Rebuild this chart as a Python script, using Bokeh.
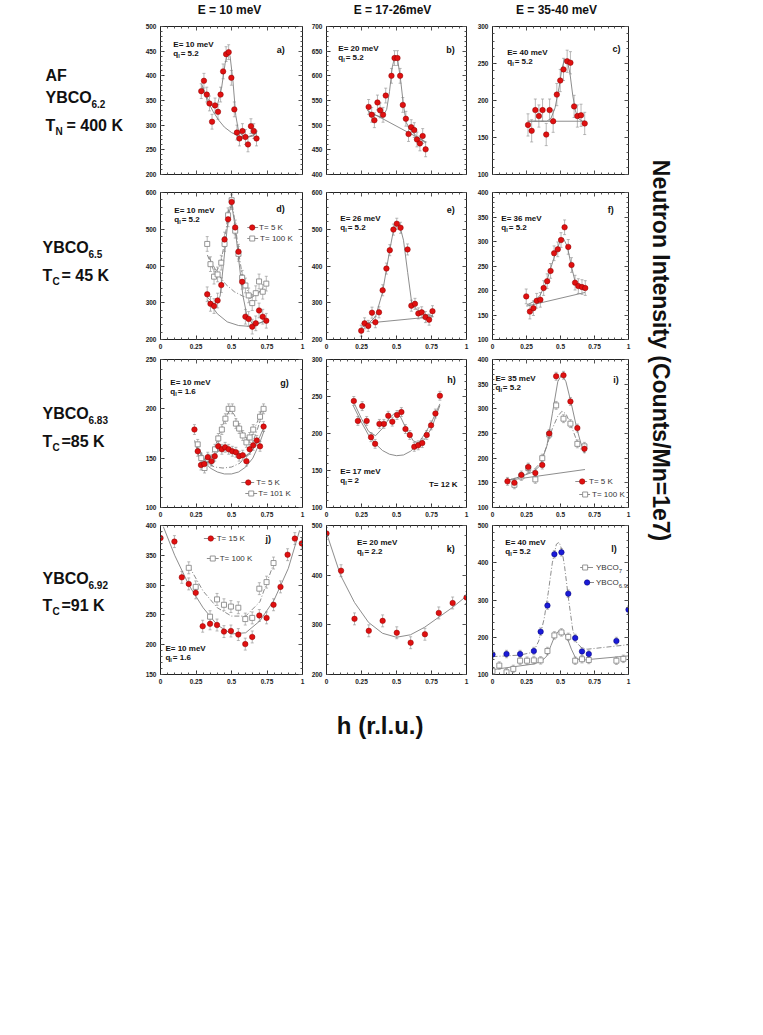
import numpy as np
from bokeh.plotting import figure
from bokeh.layouts import column, row
from bokeh.models import (Range1d, LinearAxis, SingleIntervalTicker, FixedTicker, Label,
                          Whisker, ColumnDataSource, TeeHead)
from bokeh.embed import file_html
from bokeh.resources import INLINE

# ------------------------------------------------------------------ data
x_ticks = [0, 0.25, 0.5, 0.75, 1]
x_tick_labels = ["0", "0.25", "0.5", "0.75", "1"]
energy_headers = ["E = 10 meV", "E = 17-26meV", "E = 35-40 meV"]

# a) YBCO6.2, E=10 meV
a_h = [0.287, 0.306, 0.326, 0.345, 0.363, 0.384, 0.405, 0.423, 0.441, 0.462, 0.480,
       0.499, 0.520, 0.538, 0.556, 0.577, 0.598, 0.616, 0.637, 0.657, 0.676]
a_I = [369, 390, 362, 344, 307, 340, 327, 362, 409, 444, 448, 396, 332, 285, 273, 288,
       276, 261, 298, 288, 273]
a_err = 15
a_fit_h = [0.29, 0.33, 0.37, 0.40, 0.43, 0.455, 0.475, 0.49, 0.51, 0.53, 0.55, 0.58, 0.62, 0.66, 0.68]
a_fit_I = [383, 355, 337, 340, 375, 425, 448, 440, 390, 320, 287, 278, 277, 281, 285]
a_bg_h = [0.29, 0.33, 0.37, 0.41, 0.45, 0.50, 0.55, 0.60, 0.65, 0.68]
a_bg_I = [378, 350, 328, 310, 296, 285, 278, 275, 278, 285]

# b) YBCO6.2, E=20 meV
b_h = [0.301, 0.323, 0.342, 0.364, 0.383, 0.404, 0.423, 0.464, 0.486, 0.507, 0.526,
       0.545, 0.567, 0.586, 0.605, 0.627, 0.646, 0.667, 0.687, 0.708]
b_I = [537, 521, 510, 546, 530, 521, 560, 600, 636, 636, 600, 541, 513, 482, 496, 490,
       471, 463, 478, 451]
b_err = 15
b_fit_h = [0.30, 0.35, 0.40, 0.43, 0.45, 0.47, 0.49, 0.51, 0.53, 0.55, 0.57, 0.60, 0.65, 0.71]
b_fit_I = [527, 520, 516, 532, 568, 618, 642, 630, 590, 540, 505, 490, 476, 464]
b_bg_h = [0.29, 0.71]
b_bg_I = [530, 466]

# c) YBCO6.2, E=40 meV
c_h = [0.261, 0.288, 0.315, 0.341, 0.368, 0.395, 0.420, 0.446, 0.473, 0.498, 0.522,
       0.549, 0.573, 0.600, 0.624, 0.651, 0.678]
c_I = [167, 159, 187, 179, 187, 154, 187, 172, 208, 227, 242, 253, 251, 192, 179, 180, 169]
c_err = 15
c_fit_h = [0.26, 0.40, 0.43, 0.46, 0.49, 0.51, 0.53, 0.55, 0.57, 0.59, 0.61, 0.63, 0.66, 0.68]
c_fit_I = [172, 172, 176, 190, 218, 243, 256, 254, 236, 207, 186, 176, 172, 172]
c_bg_h = [0.26, 0.68]
c_bg_I = [172, 172]

# d) YBCO6.5, E=10 meV, T=5 K and T=100 K
d_h = [0.329, 0.352, 0.377, 0.402, 0.428, 0.451, 0.476, 0.501, 0.526, 0.549, 0.575,
       0.598, 0.621, 0.646, 0.671, 0.694, 0.720, 0.745]
d5_I = [323, 297, 291, 306, 348, 472, 527, 574, 505, 439, 357, 262, 256, 235, 244, 279, 262, 251]
d100_I = [460, 405, 371, 377, 409, 460, 538, 579, 496, 433, 368, 347, 320, 299, 326, 358, 330, 352]
d_err = 20
d5_fit_h = [0.33, 0.38, 0.42, 0.45, 0.48, 0.50, 0.52, 0.55, 0.58, 0.61, 0.65, 0.70, 0.75]
d5_fit_I = [315, 295, 318, 430, 540, 570, 522, 420, 320, 262, 242, 245, 253]
d5_bg_h = [0.33, 0.40, 0.47, 0.55, 0.62, 0.68, 0.75]
d5_bg_I = [308, 270, 248, 238, 236, 242, 253]
d100_fit_h = [0.33, 0.38, 0.42, 0.45, 0.48, 0.50, 0.52, 0.55, 0.58, 0.62, 0.66, 0.70, 0.75]
d100_fit_I = [430, 382, 400, 462, 555, 580, 532, 440, 362, 326, 320, 330, 355]
d100_bg_h = [0.34, 0.40, 0.46, 0.52, 0.58, 0.63, 0.68, 0.75]
d100_bg_I = [425, 380, 350, 330, 318, 312, 322, 355]

# e) YBCO6.5, E=26 meV
e_h = [0.248, 0.272, 0.298, 0.325, 0.349, 0.375, 0.401, 0.428, 0.452, 0.478, 0.502,
       0.529, 0.579, 0.606, 0.632, 0.656, 0.680, 0.707, 0.733, 0.757]
e_I = [224, 244, 237, 273, 247, 274, 334, 393, 443, 499, 515, 504, 445, 292, 297, 271,
       274, 261, 254, 277]
e_err = 15
e_fit_h = [0.25, 0.30, 0.35, 0.40, 0.45, 0.48, 0.50, 0.52, 0.55, 0.58, 0.61, 0.65, 0.70, 0.76]
e_fit_I = [232, 244, 262, 328, 440, 500, 518, 515, 470, 382, 296, 280, 268, 265]
e_bg_h = [0.25, 0.76]
e_bg_I = [243, 262]

# f) YBCO6.5, E=36 meV
f_h = [0.248, 0.275, 0.301, 0.325, 0.352, 0.376, 0.402, 0.427, 0.453, 0.480, 0.504,
       0.530, 0.557, 0.581, 0.607, 0.631, 0.658, 0.682]
f_I = [188, 157, 164, 179, 181, 205, 219, 240, 276, 284, 303, 329, 289, 252, 216, 209, 207, 205]
f_err = 15
f_fit_h = [0.25, 0.30, 0.35, 0.40, 0.45, 0.50, 0.52, 0.55, 0.58, 0.61, 0.64, 0.68]
f_fit_I = [170, 177, 190, 220, 265, 303, 307, 290, 250, 215, 205, 200]
f_bg_h = [0.25, 0.68]
f_bg_I = [168, 196]

# g) YBCO6.83, E=10 meV, T=5 K and T=101 K
g5_h = [0.239, 0.262, 0.285, 0.308, 0.333, 0.359, 0.382, 0.407, 0.432, 0.455, 0.480,
        0.506, 0.531, 0.554, 0.579, 0.605, 0.628, 0.653, 0.678, 0.701, 0.726]
g5_I = [179, 157, 143, 144, 151, 147, 152, 162, 159, 161, 159, 157, 156, 152, 153, 147,
        159, 163, 168, 162, 182]
g101_h = [0.262, 0.287, 0.310, 0.336, 0.361, 0.384, 0.407, 0.432, 0.457, 0.480, 0.506,
          0.531, 0.554, 0.579, 0.605, 0.628, 0.653, 0.701, 0.726]
g101_I = [164, 150, 140, 149, 148, 159, 170, 179, 190, 200, 200, 185, 180, 173, 166, 171,
          179, 192, 200]
g_err = 5
g5_fit_h = [0.24, 0.27, 0.30, 0.34, 0.38, 0.42, 0.46, 0.50, 0.54, 0.58, 0.62, 0.66, 0.70, 0.73]
g5_fit_I = [168, 152, 145, 146, 153, 159, 161, 159, 156, 153, 153, 161, 172, 182]
g5_bg_h = [0.25, 0.30, 0.35, 0.40, 0.45, 0.50, 0.55, 0.60, 0.65, 0.70, 0.73]
g5_bg_I = [165, 148, 140, 136, 134, 134, 136, 141, 150, 166, 178]
g101_fit_h = [0.26, 0.30, 0.34, 0.38, 0.42, 0.46, 0.49, 0.52, 0.56, 0.60, 0.64, 0.68, 0.72]
g101_fit_I = [166, 150, 149, 160, 176, 192, 199, 194, 180, 170, 172, 186, 202]
g101_bg_h = [0.27, 0.32, 0.38, 0.44, 0.50, 0.56, 0.62, 0.68, 0.72]
g101_bg_I = [160, 146, 141, 140, 141, 145, 155, 178, 197]

# h) YBCO6.83, E=17 meV, T=12 K
h_h = [0.195, 0.224, 0.255, 0.287, 0.318, 0.347, 0.378, 0.410, 0.441, 0.470, 0.504,
       0.535, 0.564, 0.595, 0.627, 0.655, 0.684, 0.716, 0.747, 0.778, 0.810]
h_I = [244, 217, 237, 217, 195, 186, 213, 213, 224, 216, 225, 229, 206, 198, 182, 184,
       187, 198, 211, 227, 251]
h_err = 6
h_fit_h = [0.20, 0.25, 0.30, 0.35, 0.40, 0.45, 0.49, 0.53, 0.57, 0.62, 0.66, 0.70, 0.75, 0.81]
h_fit_I = [240, 220, 203, 197, 207, 221, 228, 222, 206, 190, 187, 192, 207, 238]
h_bg_h = [0.19, 0.25, 0.30, 0.35, 0.40, 0.45, 0.50, 0.55, 0.60, 0.65, 0.70, 0.75, 0.81]
h_bg_I = [238, 215, 198, 186, 177, 172, 170, 171, 176, 185, 199, 215, 240]

# i) YBCO6.83, E=35 meV, T=5 K and T=100 K
i5_h = [0.110, 0.161, 0.212, 0.263, 0.315, 0.366, 0.417, 0.468, 0.522, 0.573, 0.624, 0.676]
i5_I = [153, 150, 166, 182, 170, 186, 250, 366, 368, 315, 261, 219]
i100_h = [0.161, 0.212, 0.263, 0.315, 0.366, 0.417, 0.468, 0.522, 0.573, 0.624, 0.676]
i100_I = [146, 163, 180, 157, 200, 248, 307, 280, 270, 229, 224]
i_err = 8
i5_fit_h = [0.11, 0.20, 0.30, 0.35, 0.40, 0.44, 0.48, 0.51, 0.54, 0.58, 0.62, 0.65, 0.68]
i5_fit_I = [155, 162, 172, 185, 225, 290, 355, 370, 355, 310, 260, 230, 212]
i100_fit_h = [0.11, 0.20, 0.30, 0.35, 0.40, 0.44, 0.48, 0.51, 0.54, 0.58, 0.62, 0.65, 0.68]
i100_fit_I = [155, 162, 175, 190, 225, 260, 285, 295, 290, 265, 235, 218, 210]
i_bg_h = [0.11, 0.68]
i_bg_I = [155, 177]

# j) YBCO6.92, E=10 meV, T=15 K and T=100 K
j15_h = [0.0, 0.098, 0.150, 0.199, 0.248, 0.297, 0.349, 0.398, 0.447, 0.496, 0.548,
         0.597, 0.646, 0.696, 0.747, 0.796, 0.845, 0.895, 0.946, 0.995]
j15_I = [379, 373, 313, 302, 287, 231, 235, 233, 222, 223, 217, 201, 213, 249, 245, 267,
         297, 351, 378, 370]
j100_h = [0.199, 0.248, 0.349, 0.398, 0.447, 0.496, 0.548, 0.597, 0.646, 0.696, 0.747, 0.796]
j100_I = [329, 297, 247, 276, 267, 264, 262, 243, 245, 294, 305, 337]
j_err = 10
j15_fit_h = [0.02, 0.10, 0.20, 0.30, 0.40, 0.50, 0.60, 0.70, 0.80, 0.90, 0.98]
j15_fit_I = [398, 350, 300, 262, 233, 218, 220, 240, 275, 328, 392]
j100_fit_h = [0.20, 0.30, 0.40, 0.50, 0.60, 0.70, 0.80]
j100_fit_I = [332, 290, 262, 248, 248, 272, 338]

# k) YBCO6.92, E=20 meV
k_h = [0.0, 0.104, 0.200, 0.302, 0.401, 0.502, 0.601, 0.703, 0.802, 0.901, 1.0]
k_I = [484, 409, 312, 288, 308, 284, 264, 281, 324, 344, 355]
k_err = 12
k_fit_h = [0.0, 0.1, 0.2, 0.3, 0.4, 0.5, 0.6, 0.7, 0.8, 0.9, 1.0]
k_fit_I = [485, 400, 345, 305, 283, 275, 280, 295, 315, 335, 358]

# l) E=40 meV, YBCO7 and YBCO6.92
l692_h = [0.0, 0.103, 0.203, 0.304, 0.354, 0.404, 0.455, 0.507, 0.557, 0.608, 0.658, 0.708, 0.911, 1.0]
l692_I = [154, 155, 155, 163, 215, 285, 423, 428, 317, 198, 162, 155, 190, 274]
l7_h = [0.0, 0.05, 0.103, 0.153, 0.203, 0.254, 0.304, 0.354, 0.404, 0.455, 0.507, 0.557,
        0.608, 0.658, 0.708, 0.911, 0.962]
l7_I = [109, 124, 106, 115, 137, 137, 138, 138, 163, 205, 213, 201, 137, 141, 139, 137, 142]
l_err = 10
l7_fit_h = [0.0, 0.30, 0.36, 0.40, 0.43, 0.46, 0.49, 0.52, 0.55, 0.58, 0.61, 0.65, 0.70, 1.0]
l7_fit_I = [113, 128, 135, 150, 178, 205, 218, 215, 197, 168, 145, 138, 140, 150]
l692_fit_h = [0.0, 0.20, 0.30, 0.34, 0.38, 0.41, 0.44, 0.47, 0.49, 0.51, 0.53, 0.56, 0.59,
              0.62, 0.66, 0.70, 1.0]
l692_fit_I = [148, 152, 160, 190, 250, 320, 400, 450, 455, 435, 390, 300, 220, 185, 170, 168, 180]

# ------------------------------------------------------------------ layout geometry (page px)
TOP_H = 18
LEFT_W = 142
RIGHT_W = 45
BOT_H = 62
COL_L = [158, 324, 490]
COL_W = [144, 142, 138]
BL = [16, 16, 16]
BR = [6, 8, 12]
ROW_T = [26, 192, 359, 525]
ROW_H = [148, 147, 148, 149]
BT = [8, 9, 6, 5]
BB = [9, 14, 13, 14]
GRID_W = sum(BL[c] + COL_W[c] + BR[c] for c in range(3))
GRID_H = sum(BT[r] + ROW_H[r] + BB[r] for r in range(4))
FULL_W = LEFT_W + GRID_W + RIGHT_W

FONT = "Liberation Sans"
RED_FILL, RED_LINE = "#e01010", "#8a0000"
BLUE_FILL, BLUE_LINE = "#1a1ad8", "#000070"
SQ_LINE = "#8a8a8a"
FIT = "#808080"
ERR = "#9a9a9a"
DASH = "5 2 1 2"
AX = "#222222"


def tick_style(ax):
    ax.axis_line_color = AX
    ax.axis_line_width = 1
    ax.major_tick_out = 0
    ax.minor_tick_out = 0
    ax.major_tick_line_color = "#333333"
    ax.minor_tick_line_color = "#555555"


def labelled_axis(interval, overrides=None):
    ax = LinearAxis(ticker=SingleIntervalTicker(interval=interval, num_minor_ticks=5))
    tick_style(ax)
    ax.major_tick_in = 4
    ax.minor_tick_in = 2
    ax.major_label_text_font = FONT
    ax.major_label_text_font_style = "bold"
    ax.major_label_text_color = AX
    ax.major_label_text_font_size = "6.5px"
    ax.major_label_standoff = 4
    if overrides:
        ax.major_label_overrides = overrides
    return ax


def bare_axes(p, loc, lo, hi, interval):
    """Tick marks only (no label texts) on a side of the frame."""
    majors = list(np.arange(lo, hi + interval * 0.01, interval))
    minors = list(np.arange(lo, hi + interval * 0.01, interval / 5.0))
    for pos, length in ((majors, 4), (minors, 2)):
        ax = LinearAxis(ticker=FixedTicker(ticks=[], minor_ticks=pos))
        tick_style(ax)
        ax.axis_line_color = AX if length == 4 else None
        ax.major_tick_in = 0
        ax.minor_tick_in = length
        ax.major_label_standoff = 0
        p.add_layout(ax, loc)


def make_panel(c, r, yr, ystep, xlabels):
    w = BL[c] + COL_W[c] + BR[c]
    h = BT[r] + ROW_H[r] + BB[r]
    p = figure(width=w, height=h, x_range=Range1d(0, 1), y_range=Range1d(*yr),
               output_backend="svg", toolbar_location=None,
               x_axis_type=None, y_axis_type=None,
               min_border_left=BL[c], min_border_right=BR[c],
               min_border_top=BT[r], min_border_bottom=BB[r])
    p.xgrid.visible = False
    p.ygrid.visible = False
    p.outline_line_color = AX
    p.background_fill_color = "white"
    p.border_fill_color = "white"
    ov = {float(t): s for t, s in zip(x_ticks, x_tick_labels)}
    if xlabels:
        p.add_layout(labelled_axis(0.25, ov), "below")
    else:
        bare_axes(p, "below", 0, 1, 0.25)
    bare_axes(p, "above", 0, 1, 0.25)
    p.add_layout(labelled_axis(ystep), "left")
    bare_axes(p, "right", yr[0], yr[1], ystep)
    p._geo = (c, r, yr)
    return p


def to_data(p, px, py):
    c, r, yr = p._geo
    x = (px - COL_L[c]) / COL_W[c]
    y = yr[1] - (py - ROW_T[r]) / ROW_H[r] * (yr[1] - yr[0])
    return x, y


def put(p, x, y, s, size="8px", bold=True, align="left", color="#111111", angle=0,
        baseline="middle"):
    p.add_layout(Label(x=x, y=y, text=s, text_font=FONT, text_font_size=size,
                       text_font_style="bold" if bold else "normal", text_align=align,
                       text_baseline=baseline, text_color=color, angle=angle))


def text(p, px, py, s, **kw):
    x, y = to_data(p, px, py)
    put(p, x, y, s, **kw)


def eq_label(p, px, py, E, q):
    text(p, px, py, "E= %s meV" % E)
    text(p, px, py + 9, "q")
    text(p, px + 5, py + 11, "l", size="5.5px")
    text(p, px + 7.5, py + 9, "= %s" % q)


def marker(p, xs, ys, kind, src=None):
    kw = dict(source=src) if src is not None else {}
    xa, ya = ("x", "y") if src is not None else (xs, ys)
    if kind == "red":
        p.scatter(xa, ya, marker="circle", size=5.5, fill_color=RED_FILL,
                  line_color=RED_LINE, line_width=0.5, **kw)
    elif kind == "blue":
        p.scatter(xa, ya, marker="circle", size=5.5, fill_color=BLUE_FILL,
                  line_color=BLUE_LINE, line_width=0.5, **kw)
    else:
        p.scatter(xa, ya, marker="square", size=5, fill_color="white",
                  line_color=SQ_LINE, line_width=0.9, **kw)


def series(p, groups, fits):
    srcs = []
    for hs, Is, err, kind in groups:
        hs = np.asarray(hs, float)
        Is = np.asarray(Is, float)
        src = ColumnDataSource(dict(x=hs, y=Is, lo=Is - err, hi=Is + err))
        p.add_layout(Whisker(source=src, base="x", lower="lo", upper="hi",
                             line_color=ERR, line_width=0.7,
                             lower_head=TeeHead(size=3, line_color=ERR, line_width=0.7),
                             upper_head=TeeHead(size=3, line_color=ERR, line_width=0.7)))
        srcs.append((src, kind))
    for hs, Is, dashed in fits:
        p.line(hs, Is, line_color=FIT, line_width=0.9, line_dash=DASH if dashed else "solid")
    for src, kind in srcs:
        marker(p, None, None, kind, src)


def legend(p, entries):
    """entries: (label, kind, line_x0, line_x1, marker_x, text_x, y) in page px."""
    for lab, kind, x0, x1, mx, tx, y in entries:
        a = to_data(p, x0, y)
        b = to_data(p, x1, y)
        m = to_data(p, mx, y)
        p.line([a[0], b[0]], [a[1], b[1]], line_color=FIT, line_width=0.9)
        marker(p, [m[0]], [m[1]], kind)
        text(p, tx, y, lab, size="8px", bold=False, color="#333333")


# ------------------------------------------------------------------ panels
pa = make_panel(0, 0, (200, 500), 50, False)
series(pa, [(a_h, a_I, a_err, "red")], [(a_bg_h, a_bg_I, False), (a_fit_h, a_fit_I, False)])
eq_label(pa, 171, 44, "10", "5.2")
text(pa, 284, 49, "a)", size="9px", align="right")

pb = make_panel(1, 0, (400, 700), 50, False)
series(pb, [(b_h, b_I, b_err, "red")], [(b_bg_h, b_bg_I, False), (b_fit_h, b_fit_I, False)])
eq_label(pb, 336, 48, "20", "5.2")
text(pb, 454, 49, "b)", size="9px", align="right")

pc = make_panel(2, 0, (100, 300), 50, False)
series(pc, [(c_h, c_I, c_err, "red")], [(c_bg_h, c_bg_I, False), (c_fit_h, c_fit_I, False)])
eq_label(pc, 505, 52, "40", "5.2")
text(pc, 620, 48, "c)", size="9px", align="right")

pd = make_panel(0, 1, (200, 600), 100, True)
series(pd, [(d_h, d100_I, d_err, "sq"), (d_h, d5_I, d_err, "red")],
       [(d5_bg_h, d5_bg_I, False), (d5_fit_h, d5_fit_I, False),
        (d100_bg_h, d100_bg_I, True), (d100_fit_h, d100_fit_I, True)])
eq_label(pd, 172, 210, "10", "5.2")
text(pd, 284, 208, "d)", size="9px", align="right")
legend(pd, [("T= 5 K", "red", 246, 257, 251, 258, 227),
            ("T= 100 K", "sq", 246, 257, 251, 259, 238)])

pe = make_panel(1, 1, (200, 600), 100, True)
series(pe, [(e_h, e_I, e_err, "red")], [(e_bg_h, e_bg_I, False), (e_fit_h, e_fit_I, False)])
eq_label(pe, 338, 218, "26", "5.2")
text(pe, 454, 209, "e)", size="9px", align="right")

pf = make_panel(2, 1, (100, 400), 50, True)
series(pf, [(f_h, f_I, f_err, "red")], [(f_bg_h, f_bg_I, False), (f_fit_h, f_fit_I, False)])
eq_label(pf, 499, 218, "36", "5.2")
text(pf, 613, 209, "f)", size="9px", align="right")

pg = make_panel(0, 2, (100, 250), 50, True)
series(pg, [(g101_h, g101_I, g_err, "sq"), (g5_h, g5_I, g_err, "red")],
       [(g5_bg_h, g5_bg_I, False), (g5_fit_h, g5_fit_I, False),
        (g101_bg_h, g101_bg_I, True), (g101_fit_h, g101_fit_I, True)])
eq_label(pg, 168, 382, "10", "1.6")
text(pg, 288, 382, "g)", size="9px", align="right")
legend(pg, [("T= 5 K", "red", 240, 253, 247, 255, 482),
            ("T= 101 K", "sq", 244, 256, 250, 257, 493)])

ph = make_panel(1, 2, (100, 300), 50, True)
series(ph, [(h_h, h_I, h_err, "red")], [(h_bg_h, h_bg_I, False), (h_fit_h, h_fit_I, False)])
eq_label(ph, 338, 471, "17", "2")
text(ph, 457, 484, "T= 12 K", size="8px", align="right")
text(ph, 455, 379, "h)", size="9px", align="right")

pi = make_panel(2, 2, (100, 400), 50, True)
series(pi, [(i100_h, i100_I, i_err, "sq"), (i5_h, i5_I, i_err, "red")],
       [(i_bg_h, i_bg_I, False), (i5_fit_h, i5_fit_I, False), (i100_fit_h, i100_fit_I, True)])
eq_label(pi, 493, 378, "35", "5.2")
text(pi, 618, 379, "i)", size="9px", align="right")
legend(pi, [("T= 5 K", "red", 574, 586, 581, 588, 481),
            ("T= 100 K", "sq", 578, 589, 584, 591, 494)])

pj = make_panel(0, 3, (150, 400), 50, True)
series(pj, [(j100_h, j100_I, j_err, "sq"), (j15_h, j15_I, j_err, "red")],
       [(j15_fit_h, j15_fit_I, False), (j100_fit_h, j100_fit_I, True)])
eq_label(pj, 163, 648, "10", "1.6")
text(pj, 270, 538, "j)", size="9px", align="right")
legend(pj, [("T= 15 K", "red", 202, 214, 209, 215, 538),
            ("T= 100 K", "sq", 205, 217, 211, 218, 558)])

pk = make_panel(1, 3, (200, 500), 100, True)
series(pk, [(k_h, k_I, k_err, "red")], [(k_fit_h, k_fit_I, False)])
eq_label(pk, 355, 542, "20", "2.2")
text(pk, 454, 548, "k)", size="9px", align="right")

pl = make_panel(2, 3, (100, 500), 100, True)
series(pl, [(l7_h, l7_I, l_err, "sq"), (l692_h, l692_I, l_err, "blue")],
       [(l7_fit_h, l7_fit_I, False), (l692_fit_h, l692_fit_I, True)])
eq_label(pl, 503, 542, "40", "5.2")
text(pl, 616, 548, "l)", size="9px", align="right")
legend(pl, [("YBCO", "sq", 579, 592, 584, 595, 567),
            ("YBCO", "blue", 583, 593, 586, 595, 582)])
text(pl, 618, 570, "7", size="6px", bold=False, color="#333333")
text(pl, 618, 585, "6.92", size="6px", bold=False, color="#333333")


# ------------------------------------------------------------------ outer label figures
def blank(w, h):
    p = figure(width=w, height=h, x_range=Range1d(0, w), y_range=Range1d(0, h),
               output_backend="svg", toolbar_location=None, x_axis_type=None,
               y_axis_type=None, min_border=0, outline_line_color=None)
    p.xgrid.visible = False
    p.ygrid.visible = False
    return p


# top strip (energy headers)
ptop = blank(FULL_W, TOP_H)
for hx, s in zip([229, 392, 556], energy_headers):
    put(ptop, hx, TOP_H / 2.0, s, size="12px", align="center")

# left strip with sample names
pleft = blank(LEFT_W, GRID_H)


def lt(px, py, s, size):
    put(pleft, px, TOP_H + GRID_H - py, s, size=size)


BIG = "16px"
SUB = "10px"
lt(45, 75, "AF", BIG)
lt(45, 97, "YBCO", BIG)
lt(91, 103, "6.2", SUB)
lt(45, 125, "T", BIG)
lt(55, 131, "N", SUB)
lt(66, 125, "= 400 K", BIG)

lt(42, 247, "YBCO", BIG)
lt(88, 253, "6.5", SUB)
lt(42, 275, "T", BIG)
lt(52, 281, "C", SUB)
lt(61, 275, "= 45 K", BIG)

lt(42, 413, "YBCO", BIG)
lt(88, 419, "6.83", SUB)
lt(42, 441, "T", BIG)
lt(52, 447, "C", SUB)
lt(61, 441, "=85 K", BIG)

lt(42, 578, "YBCO", BIG)
lt(88, 584, "6.92", SUB)
lt(42, 605, "T", BIG)
lt(52, 611, "C", SUB)
lt(61, 605, "=91 K", BIG)

# right strip with the intensity label
pright = blank(RIGHT_W, GRID_H)
put(pright, 660 - (LEFT_W + GRID_W), TOP_H + GRID_H - 350, "Neutron Intensity (Counts/Mn=1e7)",
    size="23px", align="center", angle=-np.pi / 2)

# bottom strip with the h label
pbot = blank(FULL_W, BOT_H)
put(pbot, 383, TOP_H + GRID_H + BOT_H - 725, "h  (r.l.u.)", size="24px", align="center")

grid = column(row(pa, pb, pc), row(pd, pe, pf), row(pg, ph, pi), row(pj, pk, pl))
layout = column(ptop, row(pleft, grid, pright), pbot)

open("out.html", "w").write(file_html(layout, INLINE))
